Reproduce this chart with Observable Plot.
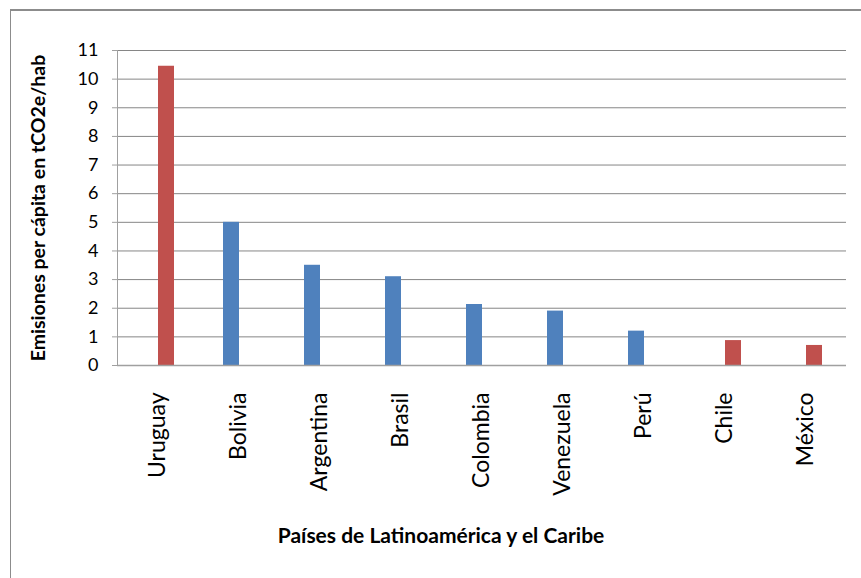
<!DOCTYPE html>
<html><head><meta charset="utf-8">
<script src="https://cdn.jsdelivr.net/npm/d3@7"></script>
<script src="https://cdn.jsdelivr.net/npm/@observablehq/plot@0.6"></script>
<style>
html,body{margin:0;padding:0;background:#fff;overflow:hidden;}
#wrap{position:relative;width:861px;height:578px;font-family:Lato,"Open Sans",sans-serif;}
#wrap svg{position:absolute;left:0;top:0;}
#borde{position:absolute;left:10px;top:9px;width:1000px;height:1000px;border-left:1.5px solid #8c8c8c;border-top:2px solid #8c8c8c;pointer-events:none;}
g[aria-label="y-axis label"] text{font-weight:bold;font-size:19.5px;}
</style></head><body><div id="wrap"><div id="borde"></div></div>
<script>
const paises = ["Uruguay","Bolivia","Argentina","Brasil","Colombia","Venezuela","Perú","Chile","México"];
const emisiones = [10.45, 5.0, 3.5, 3.1, 2.13, 1.9, 1.2, 0.87, 0.7];
const serie = ["rojo","azul","azul","azul","azul","azul","azul","rojo","rojo"];
const series = ["azul","rojo"];
const colores = ["#4F81BD","#C0504D"];
const ticksY = [0,1,2,3,4,5,6,7,8,9,10,11];
const tituloY = "Emisiones per cápita en tCO2e/hab";
const tituloX = "Países de Latinoamérica y el Caribe";

const datos = paises.map((p, i) => ({pais: p, valor: emisiones[i], serie: serie[i]}));

const chart = Plot.plot({
  width: 861,
  height: 578,
  marginLeft: 113,
  marginRight: 11,
  marginTop: 50,
  marginBottom: 213,
  style: {fontFamily: "Lato, 'Open Sans', sans-serif", color: "#000", background: "transparent"},
  fx: {domain: paises, padding: 0, axis: null},
  x: {domain: series, paddingInner: 0, paddingOuter: 1.41, axis: null},
  y: {domain: [0, 11], axis: null},
  color: {domain: series, range: colores},
  marks: [
    Plot.gridY(ticksY, {stroke: "#868686", strokeOpacity: 1}),
    Plot.barY(datos, {fx: "pais", x: "serie", y: "valor", fill: "serie"}),
    Plot.ruleY([0], {stroke: "#a0a0a0", strokeWidth: 1.5}),
    Plot.frame({anchor: "left", facetAnchor: "left", stroke: "#a0a0a0"}),
    Plot.axisY(ticksY, {tickSize: 5, tickPadding: 14, fontSize: 18, stroke: "#a0a0a0", fill: "#000",
      label: tituloY, labelAnchor: "center", labelArrow: "none", labelOffset: 86}),
    Plot.axisFx({anchor: "bottom", tickSize: 0, tickPadding: 27, tickRotate: -90, fontSize: 23, fill: "#000", label: null}),
    Plot.text([tituloX], {facet: "super", frameAnchor: "bottom", lineAnchor: "bottom", dx: -41, dy: 177,
      fontSize: 21, fontWeight: "bold", fill: "#000"})
  ]
});
document.getElementById("wrap").prepend(chart);
</script>
</body></html>
